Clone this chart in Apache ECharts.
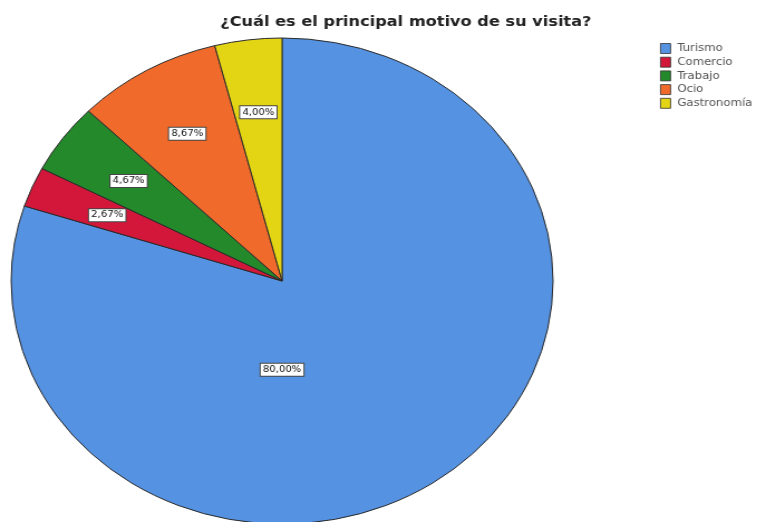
<!DOCTYPE html>
<html>
<head>
<meta charset="utf-8">
<script src="https://cdn.jsdelivr.net/npm/echarts@6/dist/echarts.min.js"></script>
<style>
  html, body { margin: 0; padding: 0; background: #fff; overflow: hidden; }
  #wrap { width: 760px; height: 522px; overflow: hidden; }
  /* the whole figure is drawn slightly wider than tall */
  #chart { width: 682px; height: 522px; transform: scaleX(1.115); transform-origin: 0 0; }
</style>
</head>
<body>
<div id="wrap"><div id="chart"></div></div>
<script>
const titleText = '¿Cuál es el principal motivo de su visita?';
const categories = ['Turismo', 'Comercio', 'Trabajo', 'Ocio', 'Gastronomía'];
const percents = [80.00, 2.67, 4.67, 8.67, 4.00];
const colors = ['#5592e2', '#d2173a', '#24892a', '#f06a2b', '#e4d514'];

const CX = 253, CY = 281, R = 243;

// mid angle of every slice, clockwise from 12 o'clock, in radians
const total = percents.reduce((a, b) => a + b, 0);
const midAngles = [];
let acc = 0;
percents.forEach(v => { midAngles.push((acc + v / 2) / total * 2 * Math.PI); acc += v; });

const chart = echarts.init(document.getElementById('chart'), null, { renderer: 'canvas' });

const fmt = v => v.toFixed(2).replace('.', ',') + '%';

chart.setOption({
  backgroundColor: '#ffffff',
  animation: false,
  color: colors,
  title: {
    text: titleText,
    left: 359,
    top: 10,
    textAlign: 'center',
    textStyle: { fontFamily: 'DejaVu Sans', fontWeight: 'bold', fontSize: 14.5, color: '#222' }
  },
  legend: {
    orient: 'vertical',
    left: 587,
    top: 37,
    itemWidth: 9,
    itemHeight: 10,
    itemGap: 0.7,
    icon: 'rect',
    itemStyle: { borderColor: '#333', borderWidth: 0.8 },
    textStyle: { fontFamily: 'DejaVu Sans', fontSize: 10.5, color: '#555', lineHeight: 13, padding: [0, 0, 0, 1] },
    data: categories
  },
  series: [{
    type: 'pie',
    center: [CX, CY],
    radius: [0, R],
    startAngle: 90,
    clockwise: true,
    avoidLabelOverlap: false,
    itemStyle: { borderColor: '#2a2a2a', borderWidth: 1 },
    emphasis: { disabled: true },
    label: {
      show: true,
      position: 'inside',
      formatter: p => fmt(p.value),
      fontFamily: 'DejaVu Sans',
      fontSize: 9,
      color: '#111',
      backgroundColor: '#ffffff',
      borderColor: '#444',
      borderWidth: 1,
      padding: [2, 2, 1, 2]
    },
    labelLine: { show: false },
    labelLayout: function (p) {
      const i = p.dataIndex;
      if (percents[i] / total > 0.5) {
        // the dominant slice keeps its label below the centre
        return { x: CX, y: CY + R * 0.365, align: 'center', verticalAlign: 'middle' };
      }
      const a = midAngles[i], f = 0.7;
      return { x: CX + f * R * Math.sin(a), y: CY - f * R * Math.cos(a), align: 'center', verticalAlign: 'middle' };
    },
    data: categories.map((c, i) => ({ name: c, value: percents[i] }))
  }]
});
</script>
</body>
</html>
